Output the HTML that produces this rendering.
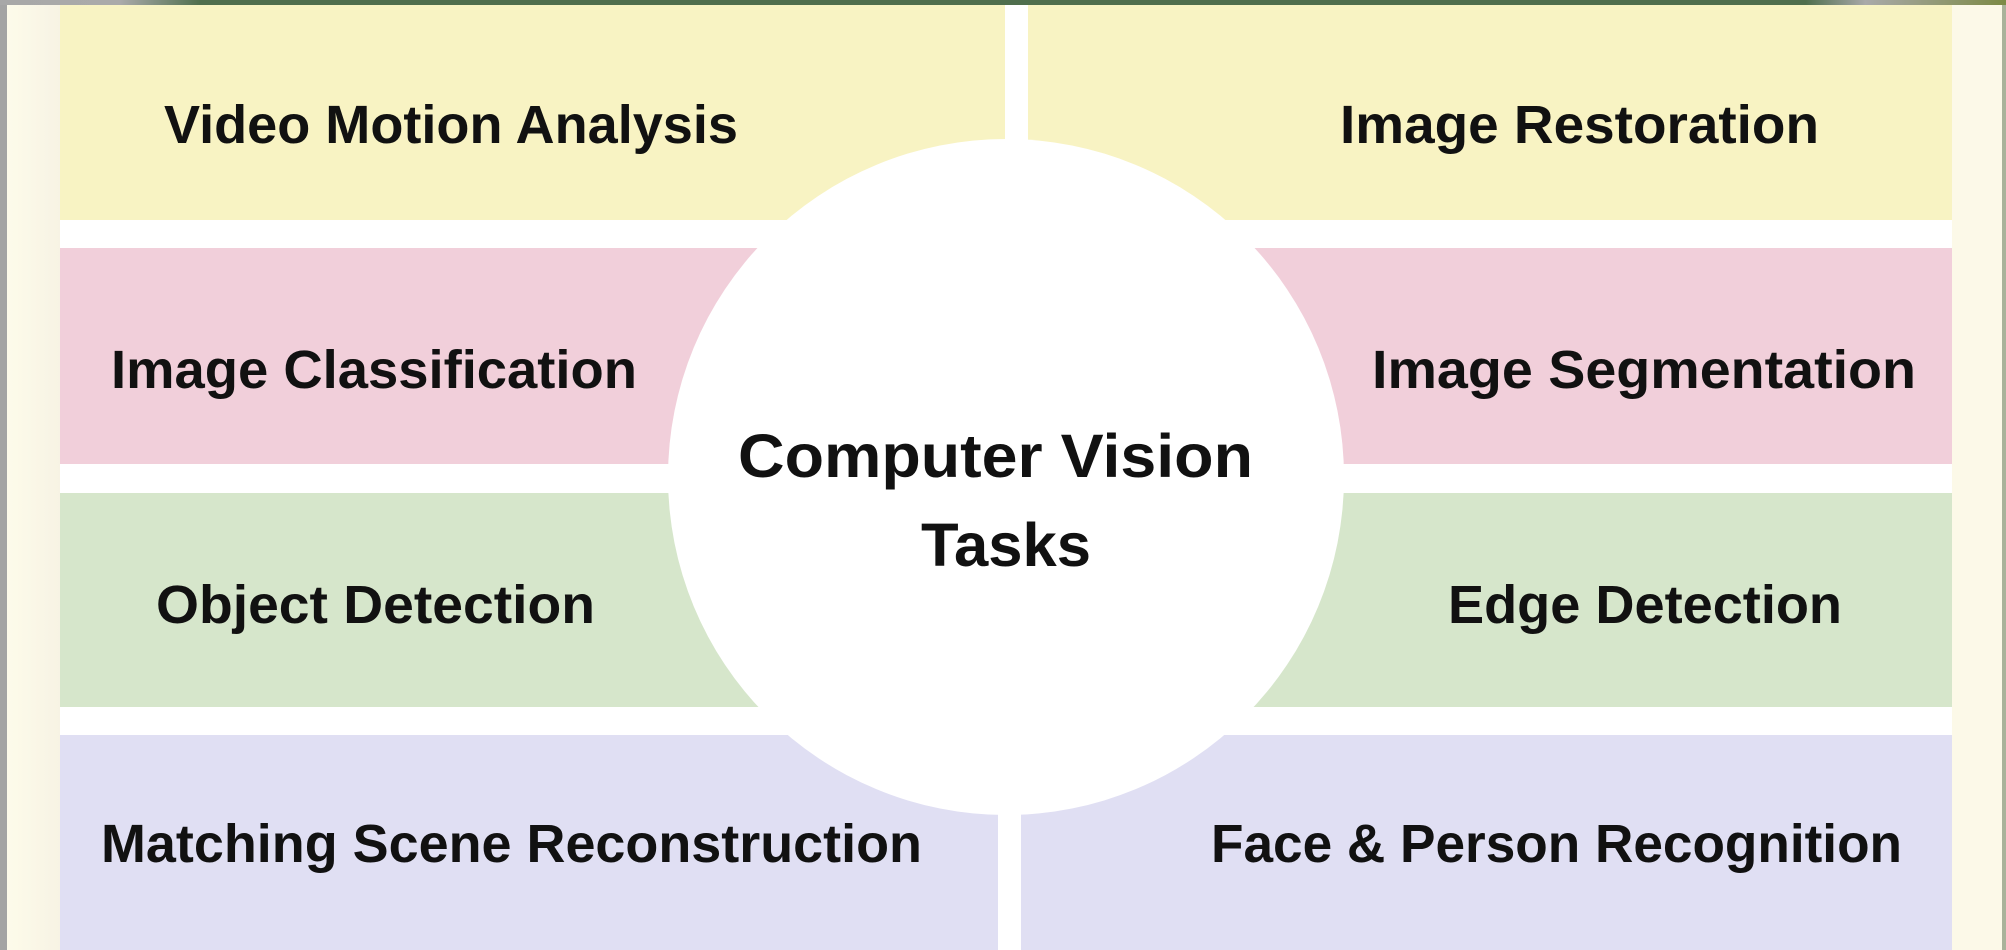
<!DOCTYPE html>
<html><head><meta charset="utf-8"><style>
html,body{margin:0;padding:0;width:2006px;height:950px;overflow:hidden;background:#fdfbee}
svg{display:block}
text{font-family:"Liberation Sans",sans-serif;font-weight:bold;fill:#111}
</style></head><body>
<svg width="2006" height="950" viewBox="0 0 2006 950" xmlns="http://www.w3.org/2000/svg">
<defs>
<linearGradient id="top" x1="0" x2="1" y1="0" y2="0">
<stop offset="0" stop-color="#a8a8a8"/><stop offset="0.06" stop-color="#aaa"/><stop offset="0.1" stop-color="#4f6e4d"/><stop offset="0.9" stop-color="#4f6e4d"/><stop offset="0.93" stop-color="#a9a9a9"/><stop offset="1" stop-color="#7c8a45"/>
</linearGradient>
<linearGradient id="lm" x1="0" x2="1" y1="0" y2="0">
<stop offset="0" stop-color="#fdfbea"/><stop offset="1" stop-color="#f7f3e4"/>
</linearGradient>
</defs>
<rect x="0" y="0" width="2006" height="950" fill="#fcf9e8"/>
<rect x="7" y="0" width="53" height="950" fill="url(#lm)"/>
<rect x="60" y="5" width="1892" height="945" fill="#ffffff"/>
<rect x="0" y="0" width="7" height="950" fill="#a4a4a4"/>
<rect x="2002" y="0" width="4" height="950" fill="#a9b29a"/>
<rect x="0" y="0" width="2006" height="5" fill="url(#top)"/>
<rect x="60" y="5" width="945" height="215" fill="#f8f3c3"/>
<rect x="1028" y="5" width="924" height="215" fill="#f8f3c3"/>
<rect x="60" y="248" width="1892" height="216" fill="#f1cfda"/>
<rect x="60" y="493" width="1892" height="214" fill="#d6e6cb"/>
<rect x="60" y="735" width="938" height="215" fill="#e0dff3"/>
<rect x="1021" y="735" width="931" height="215" fill="#e0dff3"/>
<circle cx="1006" cy="477" r="338" fill="#ffffff"/>
<text x="164" y="143" font-size="54" textLength="574" lengthAdjust="spacingAndGlyphs">Video Motion Analysis</text>
<text x="1340" y="143" font-size="54" textLength="479" lengthAdjust="spacingAndGlyphs">Image Restoration</text>
<text x="111" y="388" font-size="54" textLength="526" lengthAdjust="spacingAndGlyphs">Image Classification</text>
<text x="1372" y="388" font-size="54" textLength="544" lengthAdjust="spacingAndGlyphs">Image Segmentation</text>
<text x="156" y="623" font-size="54" textLength="439" lengthAdjust="spacingAndGlyphs">Object Detection</text>
<text x="1448" y="623" font-size="54" textLength="394" lengthAdjust="spacingAndGlyphs">Edge Detection</text>
<text x="101" y="862" font-size="54" textLength="821" lengthAdjust="spacingAndGlyphs">Matching Scene Reconstruction</text>
<text x="1211" y="862" font-size="54" textLength="691" lengthAdjust="spacingAndGlyphs">Face &amp; Person Recognition</text>
<text x="738" y="477" font-size="61" textLength="515" lengthAdjust="spacingAndGlyphs">Computer Vision</text>
<text x="921" y="566" font-size="61" textLength="170" lengthAdjust="spacingAndGlyphs">Tasks</text>
</svg>
</body></html>
